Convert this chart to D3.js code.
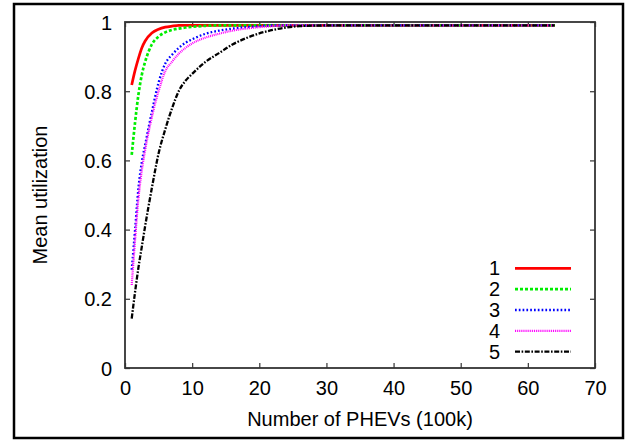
<!DOCTYPE html>
<html>
<head>
<meta charset="utf-8">
<script src="https://cdn.jsdelivr.net/npm/d3@7"></script>
<style>
  body { margin: 0; background: #fff; }
  text { font-family: "Liberation Sans", Arial, Helvetica, sans-serif; fill: #000; }
</style>
</head>
<body>
<script>
// sample points along x (number of PHEVs, 100k)
var xs = [1, 1.5, 2, 2.5, 3, 4, 5, 6, 7, 8, 9, 10, 12, 14, 16, 18, 20, 22, 24, 26, 30, 40, 50, 64];

var s1 = [0.818, 0.86, 0.895, 0.925, 0.945, 0.968, 0.979, 0.985, 0.988, 0.99, 0.99, 0.99, 0.99, 0.99, 0.99, 0.99, 0.99, 0.99, 0.99, 0.99, 0.99, 0.99, 0.99, 0.99];
var s2 = [0.616, 0.71, 0.79, 0.847, 0.885, 0.935, 0.958, 0.97, 0.977, 0.981, 0.984, 0.986, 0.989, 0.99, 0.99, 0.99, 0.99, 0.99, 0.99, 0.99, 0.99, 0.99, 0.99, 0.99];
var s3 = [0.284, 0.40, 0.52, 0.595, 0.645, 0.74, 0.825, 0.88, 0.905, 0.925, 0.94, 0.95, 0.966, 0.975, 0.981, 0.985, 0.988, 0.99, 0.99, 0.99, 0.99, 0.99, 0.99, 0.99];
var s4 = [0.24, 0.37, 0.49, 0.57, 0.63, 0.725, 0.80, 0.858, 0.885, 0.908, 0.925, 0.938, 0.955, 0.966, 0.975, 0.981, 0.985, 0.988, 0.99, 0.99, 0.99, 0.99, 0.99, 0.99];
var s5 = [0.143, 0.22, 0.29, 0.35, 0.41, 0.52, 0.62, 0.69, 0.75, 0.80, 0.83, 0.85, 0.885, 0.91, 0.935, 0.953, 0.967, 0.977, 0.984, 0.988, 0.99, 0.99, 0.99, 0.99];

var names = ["1", "2", "3", "4", "5"];
var seriesVals = [s1, s2, s3, s4, s5];

var xTicks = [0, 10, 20, 30, 40, 50, 60, 70];
var yTicks = [0, 0.2, 0.4, 0.6, 0.8, 1];

// styles (gnuplot-ish)
var styles = [
  {color: "#ff0000", width: 2.7, dash: null},
  {color: "#00ee00", width: 2.7, dash: "3,2"},
  {color: "#0000ff", width: 2.3, dash: "1.7,2.1"},
  {color: "#ff00ff", width: 2.2, dash: "1,0.9"},
  {color: "#000000", width: 2.3, dash: "5,1.6,1.6,1.6"}
];

var W = 642, H = 443;
var pLeft = 125, pRight = 595, pTop = 22, pBottom = 368;

var svg = d3.select("body").append("svg")
    .attr("width", W)
    .attr("height", H);

// outer frame
svg.append("rect")
    .attr("x", 14).attr("y", 4)
    .attr("width", 609).attr("height", 434)
    .attr("fill", "none")
    .attr("stroke", "#000")
    .attr("stroke-width", 2.5);

var x = d3.scaleLinear().domain([0, 70]).range([pLeft, pRight]);
var y = d3.scaleLinear().domain([0, 1]).range([pBottom, pTop]);

function fmtY(d) { return d === 0 || d === 1 ? String(d) : d.toFixed(1); }

// axes with inward ticks
var gl = svg.append("g").attr("transform", "translate(" + pLeft + ",0)")
    .call(d3.axisLeft(y).tickValues(yTicks).tickSizeInner(-5).tickSizeOuter(0).tickPadding(13).tickFormat(fmtY));
var gb = svg.append("g").attr("transform", "translate(0," + pBottom + ")")
    .call(d3.axisBottom(x).tickValues(xTicks).tickSizeInner(-5).tickSizeOuter(0));
var gr = svg.append("g").attr("transform", "translate(" + pRight + ",0)")
    .call(d3.axisRight(y).tickValues(yTicks).tickSizeInner(-5).tickSizeOuter(0).tickFormat(""));
var gt = svg.append("g").attr("transform", "translate(0," + pTop + ")")
    .call(d3.axisTop(x).tickValues(xTicks).tickSizeInner(-5).tickSizeOuter(0).tickFormat(""));

[gl, gb, gr, gt].forEach(function(g) {
  g.select(".domain").remove();
  g.selectAll(".tick line").attr("stroke", "#444").attr("stroke-width", 1.3);
  g.selectAll(".tick text")
    .style("font-size", "20px")
    .style("font-family", "'Liberation Sans', Arial, sans-serif")
    .attr("fill", "#000");
});
gl.selectAll(".tick text").attr("dy", "0.35em");
gb.selectAll(".tick text").attr("dy", "0").attr("y", 27);

// plot frame
svg.append("rect")
    .attr("x", pLeft).attr("y", pTop)
    .attr("width", pRight - pLeft).attr("height", pBottom - pTop)
    .attr("fill", "none")
    .attr("stroke", "#333")
    .attr("stroke-width", 1.8);

// curves
var line = d3.line()
    .x(function(d) { return x(d[0]); })
    .y(function(d) { return y(d[1]); })
    .curve(d3.curveMonotoneX);

seriesVals.forEach(function(vals, i) {
  var pts = xs.map(function(v, j) { return [v, vals[j]]; });
  svg.append("path")
      .datum(pts)
      .attr("d", line)
      .attr("fill", "none")
      .attr("stroke", styles[i].color)
      .attr("stroke-width", styles[i].width)
      .attr("stroke-dasharray", styles[i].dash);
});

// legend
var legY = d3.scaleLinear().domain([0, 4]).range([268.3, 351.7]);
names.forEach(function(n, i) {
  svg.append("text")
      .attr("x", 500)
      .attr("y", legY(i) + 7)
      .attr("text-anchor", "end")
      .style("font-size", "20px")
      .text(n);
  svg.append("line")
      .attr("x1", 515).attr("x2", 571)
      .attr("y1", legY(i)).attr("y2", legY(i))
      .attr("stroke", styles[i].color)
      .attr("stroke-width", styles[i].width)
      .attr("stroke-dasharray", styles[i].dash);
});

// axis titles
svg.append("text")
    .attr("x", (pLeft + pRight) / 2)
    .attr("y", 426)
    .attr("text-anchor", "middle")
    .style("font-size", "20px")
    .text("Number of PHEVs (100k)");

svg.append("text")
    .attr("transform", "translate(47," + ((pTop + pBottom) / 2) + ") rotate(-90)")
    .attr("text-anchor", "middle")
    .style("font-size", "20px")
    .text("Mean utilization");
</script>
</body>
</html>
